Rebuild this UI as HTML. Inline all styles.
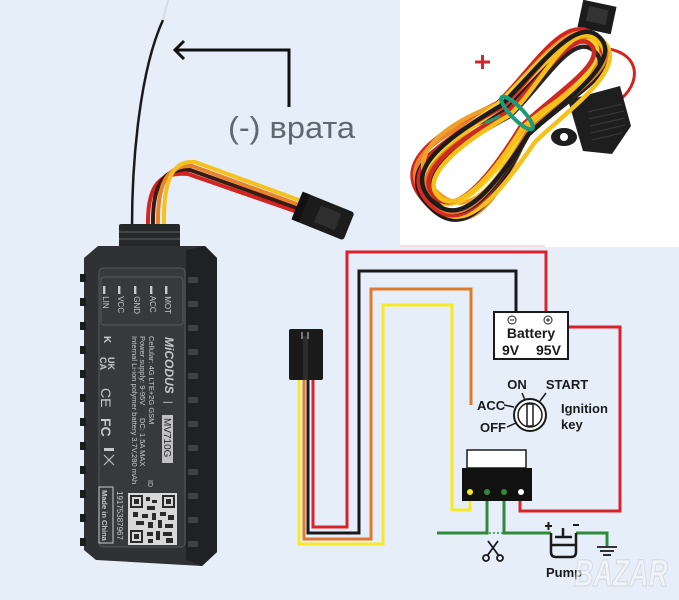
<!DOCTYPE html>
<html><head><meta charset="utf-8"><style>
html,body{margin:0;padding:0;background:#e6eef9;}
svg{display:block;}
text{font-family:"Liberation Sans",sans-serif;}
</style></head><body>
<svg width="679" height="600" viewBox="0 0 679 600" xmlns="http://www.w3.org/2000/svg">
<rect width="679" height="600" fill="#e6eef9"/>
<!-- top right white photo -->
<rect x="400" y="0" width="279" height="247" fill="#ffffff"/>
<rect x="400" y="245" width="145" height="2" fill="#f6dfe4"/>

<!-- harness connector at top -->
<g transform="translate(597,17) rotate(12)"><rect x="-17" y="-14" width="34" height="28" fill="#1b1b1b"/><rect x="-10" y="-9" width="20" height="15" fill="#333"/></g>
<!-- red loop to fuse -->
<path d="M600,48 C640,50 642,80 622,98" fill="none" stroke="#d4241f" stroke-width="3"/>
<!-- fuse holder -->
<path d="M568,100 L620,86 L631,126 L612,154 L583,151 Z" fill="#1e1e1e"/>
<ellipse cx="564" cy="137" rx="13" ry="9" fill="#1e1e1e"/>
<circle cx="564" cy="137" r="4" fill="#ffffff"/>
<g stroke="#3a3a3a" stroke-width="1"><line x1="588" y1="112" x2="622" y2="104"/><line x1="589" y1="119" x2="624" y2="111"/><line x1="590" y1="126" x2="625" y2="118"/><line x1="591" y1="133" x2="625" y2="125"/><line x1="592" y1="140" x2="622" y2="133"/></g>

<!-- harness coil -->
<g transform="translate(515,121) rotate(-44) scale(0.96,1)" fill="none" stroke-width="4.5" stroke-linejoin="round">
  <path stroke="#d4241f" d="M-126,-3 C-126,-54 -76,-49 0,-25 C50,-25 122,-46 122,-3 C122,40 50,19 0,19 C-76,43 -126,48 -126,-3Z"/>
  <path stroke="#e8832c" d="M-124,0 C-124,-53 -74,-48 0,-18 C50,-18 114,-29 114,0 C114,29 50,18 0,18 C-74,48 -124,53 -124,0Z"/>
  <path stroke="#1f1a18" d="M-126,2 C-126,-46 -76,-42 0,-14 C50,-14 120,-39 120,2 C120,43 50,18 0,18 C-76,46 -126,50 -126,2Z"/>
  <path stroke="#f4c21c" d="M-122,5 C-122,-37 -72,-33 0,-19 C50,-19 124,-31 124,5 C124,41 50,29 0,29 C-72,43 -122,47 -122,5Z"/>
  <path stroke="#d92a22" d="M-124,0 C-124,-44 -74,-40 0,-19 C50,-19 118,-38 118,0 C118,38 50,19 0,19 C-74,40 -124,44 -124,0Z"/>
  <path stroke="#f0a028" d="M-110,-6 C-110,-52 -60,-48 0,-24 C50,-24 118,-37 118,-6 C118,25 50,12 0,12 C-60,36 -110,40 -110,-6Z"/>
  <path stroke="#f5d02a" d="M-118,-4 C-118,-37 -68,-34 0,-24 C50,-24 116,-33 116,-4 C116,25 50,16 0,16 C-68,26 -118,29 -118,-4Z"/>
  <path stroke="#2a2020" d="M-118,6 C-118,-29 -68,-26 0,-7 C50,-7 110,-25 110,6 C110,37 50,19 0,19 C-68,38 -118,41 -118,6Z"/>
  <path stroke="#e07828" d="M-120,3 C-120,-34 -70,-31 0,-11 C50,-11 122,-31 122,3 C122,37 50,17 0,17 C-70,37 -120,40 -120,3Z"/>
  <path stroke="#cc2a20" d="M-115,-2 C-115,-31 -65,-28 0,-12 C50,-12 112,-26 112,-2 C112,22 50,8 0,8 C-65,24 -115,27 -115,-2Z"/>
  <path stroke="#f6c018" d="M-112,1 C-112,-25 -62,-23 0,-8 C50,-8 120,-37 120,1 C120,39 50,10 0,10 C-62,25 -112,27 -112,1Z"/>
  <path stroke="#1c1c1c" d="M-120,-1 C-120,-41 -70,-37 0,-21 C50,-21 124,-35 124,-1 C124,33 50,19 0,19 C-70,35 -120,39 -120,-1Z"/>
</g>
<!-- green tie -->
<ellipse cx="517" cy="113" rx="6" ry="22" transform="rotate(-44 517 113)" fill="none" stroke="#1d9a7a" stroke-width="4"/>
<path d="M485,123 L500,116" stroke="#1d9a7a" stroke-width="3"/>
<!-- plus -->
<g stroke="#d8232a" stroke-width="3"><line x1="475" y1="62" x2="490" y2="62"/><line x1="482.5" y1="55" x2="482.5" y2="69"/></g>

<!-- top-left: antenna and wires -->
<path d="M132,226 C132,160 140,70 163,20" fill="none" stroke="#1a1a1a" stroke-width="2.5"/>
<path d="M163,20 L168,0" fill="none" stroke="#d8dde4" stroke-width="2"/>
<g fill="none" stroke-width="4" stroke-linecap="round">
  <path d="M148,226 C147,182 162,172 188,174 L312,217" stroke="#d4241f"/>
  <path d="M153,226 C152,180 166,168 190,170 L314,214" stroke="#3a1a12"/>
  <path d="M158,226 C157,178 170,165 192,166 L316,211" stroke="#e8832c"/>
  <path d="M164,226 C163,175 175,160 195,162 L318,207" stroke="#f4c21c"/>
</g>
<g transform="translate(323,216) rotate(22)">
  <rect x="-28" y="-15" width="56" height="30" rx="3" fill="#1c1c1c"/>
  <rect x="-6" y="-9" width="22" height="18" fill="#2e2e2e"/>
  <rect x="-28" y="-15" width="8" height="30" fill="#111"/>
</g>
<!-- arrow -->
<polyline points="175,50 289,50 289,107" fill="none" stroke="#111" stroke-width="3"/>
<polyline points="184,41 175,50 184,59" fill="none" stroke="#111" stroke-width="3"/>
<text x="228" y="138" font-size="31" fill="#5f6770" textLength="127" lengthAdjust="spacingAndGlyphs">(-) врата</text>

<!-- GPS device -->
<rect x="119" y="224" width="61" height="24" rx="2" fill="#262729"/>
<rect x="119" y="231" width="61" height="2" fill="#444"/>
<rect x="119" y="238" width="61" height="2" fill="#444"/>
<path d="M84,258 L98,246 L205,246 L217,258 L217,552 L202,566 L96,560 L84,550 Z" fill="#2f3134"/>
<path d="M186,250 L205,246 L217,258 L217,552 L202,566 L186,560 Z" fill="#202124"/>
<g fill="#1b1c1e">
  <rect x="80" y="274" width="6" height="8"/><rect x="80" y="298" width="6" height="8"/><rect x="80" y="322" width="6" height="8"/>
  <rect x="80" y="346" width="6" height="8"/><rect x="80" y="370" width="6" height="8"/><rect x="80" y="394" width="6" height="8"/>
  <rect x="80" y="418" width="6" height="8"/><rect x="80" y="442" width="6" height="8"/><rect x="80" y="466" width="6" height="8"/>
  <rect x="80" y="490" width="6" height="8"/><rect x="80" y="514" width="6" height="8"/><rect x="80" y="538" width="6" height="8"/>
</g>
<g fill="#3e4044">
  <rect x="188" y="277" width="10" height="6"/><rect x="188" y="301" width="10" height="6"/><rect x="188" y="325" width="10" height="6"/>
  <rect x="188" y="349" width="10" height="6"/><rect x="188" y="373" width="10" height="6"/><rect x="188" y="397" width="10" height="6"/>
  <rect x="188" y="421" width="10" height="6"/><rect x="188" y="445" width="10" height="6"/><rect x="188" y="469" width="10" height="6"/>
  <rect x="188" y="493" width="10" height="6"/><rect x="188" y="517" width="10" height="6"/><rect x="188" y="541" width="10" height="6"/>
</g>
<rect x="99" y="268" width="86" height="279" rx="4" fill="#37393c" stroke="#55575b" stroke-width="1"/>
<rect x="101" y="277" width="82" height="48" rx="3" fill="none" stroke="#55575b" stroke-width="1"/>
<g fill="#c9c9c9" font-size="8">
  <text transform="translate(165,286) rotate(90)">▬ MOT</text>
  <text transform="translate(150,286) rotate(90)">▬ ACC</text>
  <text transform="translate(134,286) rotate(90)">▬ GND</text>
  <text transform="translate(118,286) rotate(90)">▬ VCC</text>
  <text transform="translate(103,286) rotate(90)">▬ LIN</text>
  <text transform="translate(165,337) rotate(90)" font-size="12" font-weight="bold" font-style="italic">MiCODUS</text>
  <text transform="translate(165,401) rotate(90)" font-size="10">|</text>
  <text transform="translate(149,336) rotate(90)" font-size="7.5">Cellular: 4G LTE+2G GSM</text>
  <text transform="translate(140,336) rotate(90)" font-size="7.5">Power supply: 9-95V</text>
  <text transform="translate(140,418) rotate(90)" font-size="7.5">DC: 1.5A MAX</text>
  <text transform="translate(132,336) rotate(90)" font-size="7.5">Internal Li-ion polymer battery 3.7V,280 mAh</text>
  <text transform="translate(108,357) rotate(90)" font-size="9" font-weight="bold">UK</text>
  <text transform="translate(100,357) rotate(90)" font-size="9" font-weight="bold">CA</text>
  <text transform="translate(101,388) rotate(90)" font-size="14">CE</text>
  <text transform="translate(101,418) rotate(90)" font-size="14" font-weight="bold">FC</text>
  <text transform="translate(104,336) rotate(90)" font-size="10" font-weight="bold">K</text>
  <text transform="translate(148,480) rotate(90)" font-size="7">ID</text>
  <text transform="translate(117,491) rotate(90)" font-size="8">19175387967</text>
</g>
<rect x="104" y="448" width="10" height="3" fill="#c9c9c9"/>
<path d="M104,455 L114,465 M114,455 L104,465" stroke="#c9c9c9" stroke-width="1"/>
<rect x="162" y="415" width="11" height="48" fill="#c2c2c2"/>
<text transform="translate(164,418) rotate(90)" font-size="10" fill="#2a2a2a">MV710G</text>
<rect x="99" y="487" width="14" height="56" fill="none" stroke="#c9c9c9" stroke-width="1"/>
<text transform="translate(102,490) rotate(90)" font-size="7.5" font-weight="bold" fill="#c9c9c9">Made in China</text>
<!-- QR -->
<rect x="128" y="493" width="49" height="52" fill="#d8d8d8"/>
<g fill="#2a2a2a">
  <rect x="130" y="495" width="13" height="13"/><rect x="162" y="495" width="13" height="13"/><rect x="130" y="530" width="13" height="13"/>
  <rect x="146" y="497" width="4" height="4"/><rect x="152" y="500" width="5" height="3"/><rect x="147" y="506" width="8" height="4"/>
  <rect x="133" y="512" width="5" height="5"/><rect x="142" y="514" width="6" height="4"/><rect x="152" y="513" width="4" height="7"/>
  <rect x="160" y="512" width="6" height="4"/><rect x="168" y="515" width="6" height="5"/><rect x="136" y="521" width="8" height="4"/>
  <rect x="148" y="522" width="5" height="6"/><rect x="158" y="520" width="4" height="8"/><rect x="165" y="524" width="8" height="4"/>
  <rect x="147" y="532" width="6" height="4"/><rect x="156" y="531" width="4" height="9"/><rect x="163" y="532" width="9" height="4"/>
  <rect x="148" y="539" width="5" height="4"/><rect x="166" y="538" width="7" height="5"/>
</g>
<g fill="#d8d8d8"><rect x="132" y="497" width="9" height="9"/><rect x="164" y="497" width="9" height="9"/><rect x="132" y="532" width="9" height="9"/></g>
<g fill="#2a2a2a"><rect x="134" y="499" width="5" height="5"/><rect x="166" y="499" width="5" height="5"/><rect x="134" y="534" width="5" height="5"/></g>

<!-- diagram wires -->
<g fill="none" stroke-width="3" stroke-linejoin="miter">
  <path d="M313,380 L313,527 L347,527 L347,252 L546,252 L546,312" stroke="#d8232a"/>
  <path d="M308,380 L308,533 L359,533 L359,271 L516,271 L516,312" stroke="#1a1a1a"/>
  <path d="M304,380 L304,539 L371,539 L371,289 L471,289 L471,405" stroke="#e07a2a"/>
  <path d="M299,380 L299,544 L383,544 L383,305 L452,305 L452,510 L470,510 L470,500" stroke="#f6ea22"/>
  <path d="M568,327 L620,327 L620,511 L520,511 L520,500" stroke="#d8232a"/>
  <path d="M487,500 L487,533 L437,533" stroke="#2e8b3a"/>
  <path d="M504,500 L504,533 L551,533" stroke="#2e8b3a"/>
  <path d="M576,533 L607,533 L607,546" stroke="#2e8b3a"/>
</g>
<path d="M489,533 L503,533" stroke="#2e8b3a" stroke-width="1.5" stroke-dasharray="2,2"/>
<!-- connector -->
<rect x="289" y="329" width="34" height="51" rx="2" fill="#1a1a1a"/>
<rect x="303" y="336" width="5" height="44" fill="#2c2c2c"/>
<rect x="301" y="332" width="2" height="7" fill="#777"/><rect x="307" y="332" width="2" height="7" fill="#777"/>
<!-- battery -->
<rect x="494" y="312" width="74" height="47" fill="#fff" stroke="#1a1a1a" stroke-width="2"/>
<circle cx="512" cy="320" r="4" fill="none" stroke="#1a1a1a" stroke-width="1"/><line x1="510" y1="320" x2="514" y2="320" stroke="#1a1a1a" stroke-width="1"/>
<circle cx="548" cy="320" r="4" fill="none" stroke="#1a1a1a" stroke-width="1"/><line x1="546" y1="320" x2="550" y2="320" stroke="#1a1a1a" stroke-width="1"/><line x1="548" y1="318" x2="548" y2="322" stroke="#1a1a1a" stroke-width="1"/>
<g font-weight="bold" fill="#1a1a1a">
  <text x="531" y="338" font-size="14" text-anchor="middle">Battery</text>
  <text x="502" y="355" font-size="14">9V</text>
  <text x="536" y="355" font-size="14">95V</text>
  <text x="517" y="389" font-size="13" text-anchor="middle">ON</text>
  <text x="567" y="389" font-size="13" text-anchor="middle">START</text>
  <text x="477" y="410" font-size="13">ACC</text>
  <text x="480" y="432" font-size="13">OFF</text>
  <text x="561" y="413" font-size="13">Ignition</text>
  <text x="561" y="429" font-size="13">key</text>
  <text x="496" y="465" font-size="13" text-anchor="middle">Relay</text>
  <text x="546" y="577" font-size="13">Pump</text>
</g>
<!-- ignition -->
<circle cx="530" cy="415" r="16" fill="#fff" stroke="#1a1a1a" stroke-width="2"/>
<circle cx="530" cy="415" r="12" fill="none" stroke="#1a1a1a" stroke-width="1.5"/>
<rect x="527" y="404" width="6" height="22" fill="#fff" stroke="#1a1a1a" stroke-width="1.5"/>
<g stroke="#1a1a1a" stroke-width="1.5">
  <line x1="522" y1="393" x2="525" y2="400"/><line x1="546" y1="393" x2="540" y2="401"/>
  <line x1="504" y1="405" x2="514" y2="407"/><line x1="507" y1="427" x2="516" y2="423"/>
</g>
<!-- relay -->
<rect x="467" y="450" width="59" height="18" fill="#fff" stroke="#1a1a1a" stroke-width="1.5"/>
<rect x="462" y="468" width="70" height="33" fill="#111"/>
<circle cx="470" cy="492" r="3" fill="#f6ea22"/><circle cx="487" cy="492" r="3" fill="#2e8b3a"/><circle cx="504" cy="492" r="3" fill="#2e8b3a"/><circle cx="521" cy="492" r="3" fill="#fff"/>
<!-- scissors -->
<g stroke="#1a1a1a" stroke-width="1.8" fill="none">
  <line x1="488" y1="541" x2="499" y2="556"/><line x1="498" y1="541" x2="487" y2="556"/>
  <circle cx="486" cy="558" r="3"/><circle cx="500" cy="558" r="3"/>
</g>
<!-- pump -->
<g stroke="#1a1a1a" stroke-width="2.5" fill="none">
  <path d="M551,533 L551,552 Q551,557 556,557 L571,557 Q576,557 576,552 L576,533"/>
  <line x1="551" y1="545" x2="576" y2="545"/>
  <line x1="555" y1="537" x2="572" y2="537"/>
  <line x1="563" y1="528" x2="563" y2="537"/>
</g>
<g stroke="#1a1a1a" stroke-width="2"><line x1="545" y1="526" x2="552" y2="526"/><line x1="548.5" y1="522" x2="548.5" y2="530"/><line x1="573" y1="525" x2="579" y2="525"/></g>
<!-- ground -->
<g stroke="#1a1a1a" stroke-width="1.8"><line x1="597" y1="547" x2="617" y2="547"/><line x1="600" y1="551" x2="614" y2="551"/><line x1="603" y1="555" x2="611" y2="555"/></g>
<!-- watermark -->
<text x="574" y="586" font-size="38" font-weight="bold" font-style="italic" fill="#f6f8fb" stroke="#c5cad1" stroke-width="1" opacity="0.65" textLength="94" lengthAdjust="spacingAndGlyphs">BAZAR</text>
</svg>
</body></html>
